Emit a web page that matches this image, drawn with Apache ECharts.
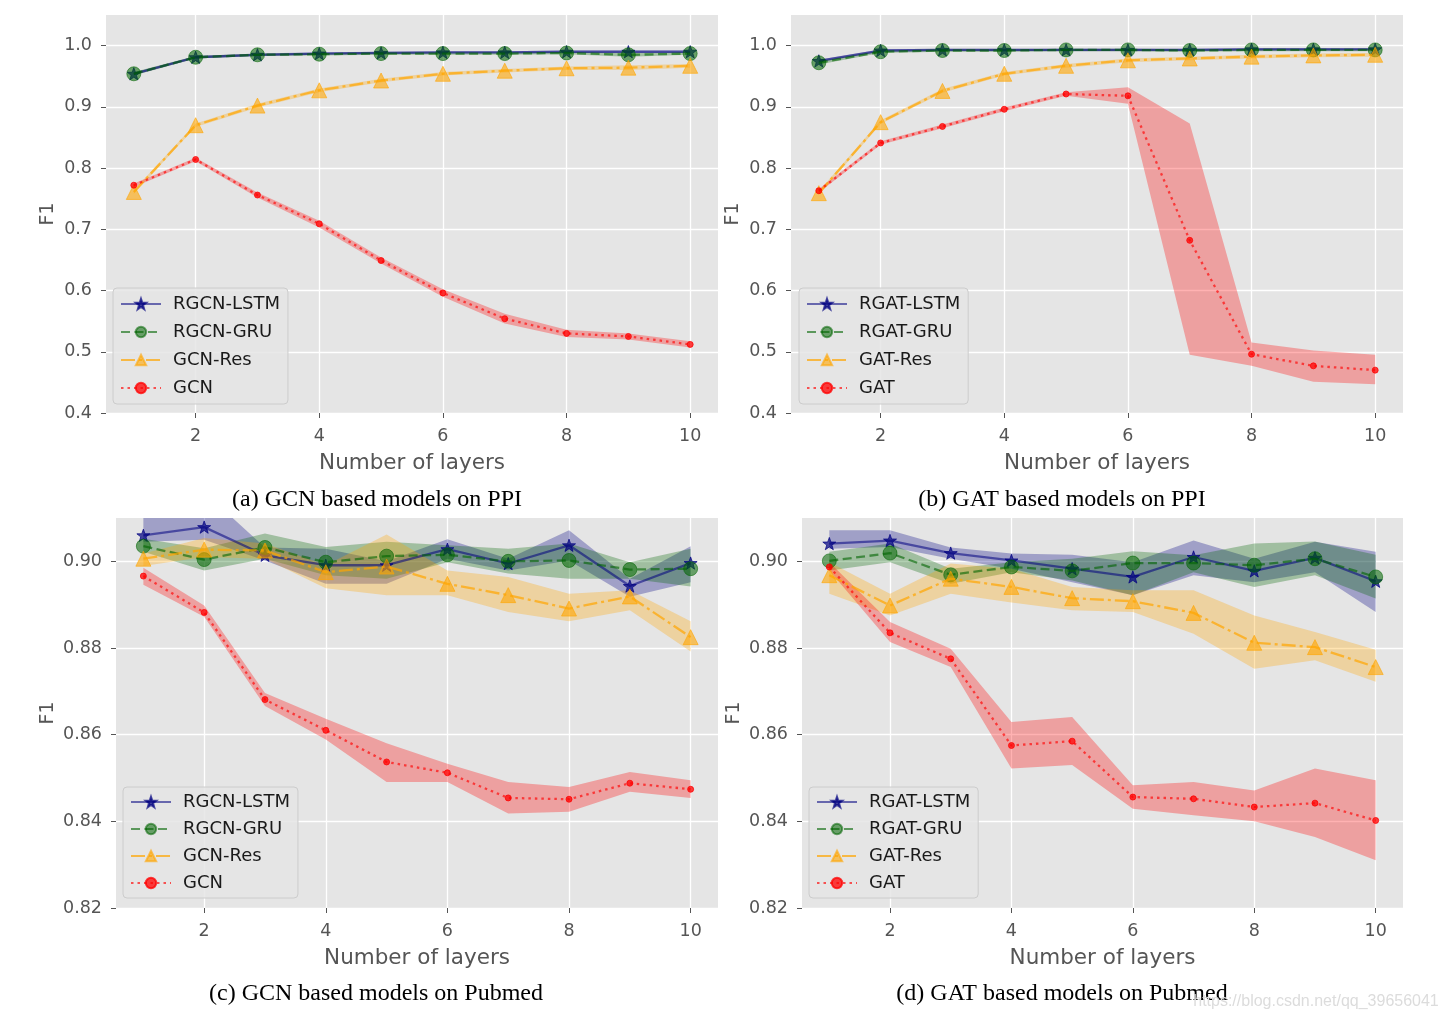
<!DOCTYPE html>
<html>
<head>
<meta charset="utf-8">
<script src="https://cdn.jsdelivr.net/npm/echarts@6/dist/echarts.min.js"></script>
<style>
html,body{margin:0;padding:0;background:#fff;}
#chart{width:1444px;height:1021px;}
</style>
</head>
<body>
<div id="chart"></div>
<script>
// ---------------- data ----------------
const layers = [1,2,3,4,5,6,7,8,9,10];
const xTicks = [2,4,6,8,10];
const yTicksPPI = [0.4,0.5,0.6,0.7,0.8,0.9,1.0];
const yTicksPub = [0.82,0.84,0.86,0.88,0.90];

const captions = ["(a) GCN based models on PPI","(b) GAT based models on PPI","(c) GCN based models on Pubmed","(d) GAT based models on Pubmed"];
const namesGCN = ["RGCN-LSTM","RGCN-GRU","GCN-Res","GCN"];
const namesGAT = ["RGAT-LSTM","RGAT-GRU","GAT-Res","GAT"];

// (a) GCN on PPI
const a_lstm    = [0.954,0.981,0.985,0.987,0.988,0.989,0.989,0.990,0.990,0.990];
const a_lstm_lo = [0.952,0.979,0.983,0.985,0.986,0.987,0.987,0.988,0.988,0.988];
const a_lstm_hi = [0.956,0.983,0.987,0.989,0.990,0.991,0.991,0.992,0.992,0.992];
const a_gru     = [0.954,0.981,0.985,0.986,0.987,0.987,0.987,0.988,0.985,0.987];
const a_gru_lo  = [0.951,0.979,0.983,0.984,0.985,0.985,0.985,0.986,0.982,0.985];
const a_gru_hi  = [0.957,0.983,0.987,0.988,0.989,0.989,0.989,0.990,0.988,0.989];
const a_res     = [0.761,0.870,0.902,0.927,0.943,0.954,0.959,0.963,0.964,0.967];
const a_res_lo  = [0.758,0.867,0.899,0.924,0.940,0.951,0.956,0.960,0.960,0.964];
const a_res_hi  = [0.764,0.873,0.905,0.930,0.946,0.957,0.962,0.966,0.968,0.970];
const a_gcn     = [0.772,0.814,0.756,0.709,0.649,0.596,0.554,0.530,0.525,0.512];
const a_gcn_lo  = [0.769,0.811,0.752,0.703,0.644,0.590,0.546,0.524,0.520,0.507];
const a_gcn_hi  = [0.775,0.817,0.760,0.714,0.654,0.602,0.562,0.536,0.530,0.517];

// (b) GAT on PPI
const b_lstm    = [0.975,0.992,0.993,0.993,0.993,0.993,0.993,0.994,0.994,0.994];
const b_lstm_lo = [0.973,0.990,0.991,0.991,0.991,0.991,0.991,0.992,0.992,0.992];
const b_lstm_hi = [0.977,0.994,0.995,0.995,0.995,0.995,0.995,0.996,0.996,0.996];
const b_gru     = [0.972,0.990,0.992,0.992,0.993,0.993,0.992,0.993,0.993,0.993];
const b_gru_lo  = [0.969,0.988,0.990,0.990,0.991,0.991,0.990,0.991,0.991,0.991];
const b_gru_hi  = [0.975,0.992,0.994,0.994,0.995,0.995,0.994,0.995,0.995,0.995];
const b_res     = [0.759,0.875,0.926,0.954,0.967,0.976,0.979,0.982,0.984,0.985];
const b_res_lo  = [0.756,0.872,0.923,0.951,0.964,0.973,0.976,0.979,0.981,0.982];
const b_res_hi  = [0.762,0.878,0.929,0.957,0.970,0.979,0.982,0.985,0.987,0.988];
const b_gat     = [0.763,0.841,0.868,0.896,0.921,0.918,0.682,0.496,0.477,0.470];
const b_gat_lo  = [0.760,0.838,0.865,0.893,0.918,0.905,0.495,0.477,0.451,0.447];
const b_gat_hi  = [0.766,0.844,0.871,0.899,0.924,0.932,0.873,0.515,0.502,0.495];

// (c) GCN on Pubmed
const c_lstm    = [0.9060,0.9079,0.9014,0.8991,0.8991,0.9028,0.8995,0.9037,0.8943,0.8996];
const c_lstm_lo = [0.9045,0.9050,0.9002,0.8948,0.8948,0.9006,0.8979,0.9002,0.8918,0.8952];
const c_lstm_hi = [0.9140,0.9160,0.9032,0.9029,0.9000,0.9051,0.9006,0.9072,0.8960,0.9035];
const c_gru     = [0.9035,0.9004,0.9032,0.8998,0.9012,0.9015,0.9000,0.9002,0.8981,0.8983];
const c_gru_lo  = [0.9022,0.8979,0.9006,0.8968,0.8960,0.8998,0.8972,0.8960,0.8960,0.8942];
const c_gru_hi  = [0.9052,0.9030,0.9064,0.9033,0.9045,0.9037,0.9029,0.9041,0.8998,0.9029];
const c_res     = [0.9006,0.9027,0.9025,0.8975,0.8988,0.8948,0.8922,0.8891,0.8919,0.8825];
const c_res_lo  = [0.8989,0.9010,0.9006,0.8938,0.8922,0.8922,0.8883,0.8862,0.8887,0.8792];
const c_res_hi  = [0.9018,0.9054,0.9041,0.8991,0.9062,0.8979,0.8964,0.8925,0.8933,0.8862];
const c_gcn     = [0.8966,0.8882,0.8681,0.8610,0.8537,0.8512,0.8454,0.8451,0.8488,0.8474];
const c_gcn_lo  = [0.8946,0.8872,0.8666,0.8589,0.8491,0.8491,0.8418,0.8422,0.8468,0.8454];
const c_gcn_hi  = [0.8985,0.8898,0.8696,0.8637,0.8580,0.8533,0.8491,0.8479,0.8514,0.8495];

// (d) GAT on Pubmed
const d_lstm    = [0.9041,0.9048,0.9019,0.9002,0.8983,0.8964,0.9010,0.8978,0.9008,0.8954];
const d_lstm_lo = [0.9029,0.9033,0.9006,0.8983,0.8952,0.8922,0.8968,0.8952,0.8975,0.8883];
const d_lstm_hi = [0.9072,0.9072,0.9032,0.9018,0.9015,0.8998,0.9048,0.9006,0.9045,0.9022];
const d_gru     = [0.9001,0.9019,0.8969,0.8987,0.8978,0.8996,0.8996,0.8991,0.9006,0.8964];
const d_gru_lo  = [0.8979,0.8998,0.8948,0.8975,0.8956,0.8922,0.8975,0.8941,0.8968,0.8914];
const d_gru_hi  = [0.9022,0.9041,0.8983,0.8998,0.9006,0.9023,0.9014,0.9041,0.9046,0.9015];
const d_res     = [0.8968,0.8898,0.8960,0.8941,0.8915,0.8908,0.8881,0.8812,0.8802,0.8756];
const d_res_lo  = [0.8925,0.8875,0.8925,0.8905,0.8887,0.8883,0.8833,0.8752,0.8772,0.8722];
const d_res_hi  = [0.8998,0.8925,0.8995,0.8983,0.8941,0.8933,0.8933,0.8875,0.8837,0.8796];
const d_gat     = [0.8987,0.8835,0.8775,0.8575,0.8585,0.8456,0.8452,0.8433,0.8442,0.8402];
const d_gat_lo  = [0.8979,0.8814,0.8756,0.8522,0.8530,0.8429,0.8414,0.8400,0.8364,0.8310];
const d_gat_hi  = [0.8998,0.8860,0.8798,0.8629,0.8641,0.8483,0.8491,0.8471,0.8522,0.8495];

// ---------------- styling ----------------
const STAR = 'path://M0,-10 L2.35,-3.24 L9.51,-3.09 L3.8,1.24 L5.88,8.09 L0,4 L-5.88,8.09 L-3.8,1.24 L-9.51,-3.09 L-2.35,-3.24 Z';
const styles = [
  {color:'#000080', band:'rgba(0,0,128,0.30)', type:'solid', lineOp:0.55, symbol:STAR, size:13, symOp:0.7},
  {color:'#006400', band:'rgba(0,100,0,0.30)', type:[9,4.5], lineOp:0.6, symbol:'circle', size:14, symOp:0.55},
  {color:'#FFA500', band:'rgba(255,165,0,0.30)', type:[14,4,3,4], lineOp:0.7, symbol:'triangle', size:15, symOp:0.6},
  {color:'#FF0000', band:'rgba(255,0,0,0.30)', type:[2.5,4], lineOp:0.65, symbol:'circle', size:6, symOp:0.75}
];

const panels = [
  {names:namesGCN, vals:[a_lstm,a_gru,a_res,a_gcn], lo:[a_lstm_lo,a_gru_lo,a_res_lo,a_gcn_lo], hi:[a_lstm_hi,a_gru_hi,a_res_hi,a_gcn_hi]},
  {names:namesGAT, vals:[b_lstm,b_gru,b_res,b_gat], lo:[b_lstm_lo,b_gru_lo,b_res_lo,b_gat_lo], hi:[b_lstm_hi,b_gru_hi,b_res_hi,b_gat_hi]},
  {names:namesGCN, vals:[c_lstm,c_gru,c_res,c_gcn], lo:[c_lstm_lo,c_gru_lo,c_res_lo,c_gcn_lo], hi:[c_lstm_hi,c_gru_hi,c_res_hi,c_gcn_hi]},
  {names:namesGAT, vals:[d_lstm,d_gru,d_res,d_gat], lo:[d_lstm_lo,d_gru_lo,d_res_lo,d_gat_lo], hi:[d_lstm_hi,d_gru_hi,d_res_hi,d_gat_hi]}
];

const grids = [
  {left:106, top:15,  width:612, height:398},
  {left:791, top:15,  width:612, height:398},
  {left:116, top:518, width:602, height:390},
  {left:802, top:518, width:601, height:390}
];
const yRanges = [[0.4,1.05,yTicksPPI,1],[0.4,1.05,yTicksPPI,1],[0.82,0.91,yTicksPub,2],[0.82,0.91,yTicksPub,2]];
const legendPos = [
  {left:113, top:288, gap:10, pad:7},
  {left:799, top:288, gap:10, pad:7},
  {left:123, top:787, gap:9, pad:6},
  {left:809, top:787, gap:9, pad:6}
];
const captionPos = [[377,500],[1062,500],[376,994],[1062,994]];

const FONT = '"DejaVu Sans", sans-serif';

const xAxes = [], yAxes = [], series = [], legends = [], gridOpts = [];
grids.forEach((g, gi) => {
  gridOpts.push({left:g.left, top:g.top, width:g.width, height:g.height, show:true,
    backgroundColor:'#E5E5E5', borderWidth:0, containLabel:false});
  xAxes.push({type:'value', gridIndex:gi, min:0.55, max:10.45,
    name:'Number of layers', nameLocation:'middle', nameGap:39,
    nameTextStyle:{color:'#555555', fontSize:21.5, fontFamily:FONT},
    axisLine:{show:false},
    axisTick:{show:true, inside:false, length:5, lineStyle:{color:'#555555', width:1}, customValues:xTicks},
    axisLabel:{color:'#555555', fontSize:17.5, fontFamily:FONT, margin:14, customValues:xTicks,
      formatter:v=>String(v)},
    splitLine:{show:true, lineStyle:{color:'#FFFFFF', width:1.3}}
  });
  const yr = yRanges[gi];
  yAxes.push({type:'value', gridIndex:gi, min:yr[0], max:yr[1],
    name:'F1', nameLocation:'middle', nameGap: gi<2 ? 48 : 58, nameRotate:90,
    nameTextStyle:{color:'#555555', fontSize:19, fontFamily:FONT},
    axisLine:{show:false},
    axisTick:{show:true, inside:false, length:5, lineStyle:{color:'#555555', width:1}, customValues:yr[2]},
    axisLabel:{color:'#555555', fontSize:17.5, fontFamily:FONT, margin:14, customValues:yr[2],
      formatter:v=>v.toFixed(yr[3])},
    splitLine:{show:true, lineStyle:{color:'#FFFFFF', width:1.3}}
  });
  const p = panels[gi];
  // shaded bands
  p.vals.forEach((vals, si) => {
    const lo = p.lo[si], hi = p.hi[si];
    series.push({
      type:'custom', xAxisIndex:gi, yAxisIndex:gi, silent:true, z:1, animation:false,
      data:[[layers[0], vals[0]]],
      renderItem:(params, api) => {
        const top = layers.map((x,i) => api.coord([x, hi[i]]));
        const bot = layers.map((x,i) => api.coord([x, lo[i]])).reverse();
        const cs = params.coordSys;
        return {type:'polygon', shape:{points: top.concat(bot)},
          style:{fill: styles[si].band},
          clipPath:{type:'rect', shape:{x:cs.x, y:cs.y, width:cs.width, height:cs.height}}};
      }
    });
  });
  // lines
  p.vals.forEach((vals, si) => {
    const s = styles[si];
    series.push({
      type:'line', name:p.names[si], xAxisIndex:gi, yAxisIndex:gi, z:3 + si*0.1, animation:false,
      data: layers.map((x,i) => [x, vals[i]]),
      symbol:s.symbol, symbolSize:s.size, symbolKeepAspect:true, showSymbol:true,
      lineStyle:{color:s.color, width:2.3, type:s.type, opacity:s.lineOp},
      itemStyle:{color:s.color, opacity:s.symOp, borderColor:s.color, borderWidth:1},
      emphasis:{disabled:true}
    });
  });
  const lp = legendPos[gi];
  legends.push({
    show:true, orient:'vertical', left:lp.left, top:lp.top, data:p.names,
    itemWidth:40, itemHeight:13, itemGap:lp.gap, padding:[lp.pad, 8, lp.pad, 7],
    backgroundColor:'rgba(229,229,229,0.85)', borderColor:'#CCCCCC', borderWidth:1, borderRadius:4,
    selectedMode:false,
    textStyle:{color:'#1a1a1a', fontSize:18, fontFamily:FONT, lineHeight:18, padding:[0,0,0,7]}
  });
});

const graphics = captions.map((t, i) => ({
  type:'text', x:captionPos[i][0], y:captionPos[i][1], silent:true,
  style:{text:t, fill:'#000000', font:'24px "Liberation Serif", serif', align:'center', verticalAlign:'middle'}
}));
graphics.push({
  type:'text', x:1316, y:1002, silent:true,
  style:{text:'https://blog.csdn.net/qq_39656041', fill:'#dcdcdc', font:'16px "Liberation Sans", sans-serif', align:'center', verticalAlign:'middle'}
});

const chart = echarts.init(document.getElementById('chart'), null, {renderer:'canvas'});
chart.setOption({
  animation:false,
  backgroundColor:'#FFFFFF',
  grid:gridOpts, xAxis:xAxes, yAxis:yAxes, legend:legends, series:series, graphic:graphics
});
</script>
</body>
</html>
